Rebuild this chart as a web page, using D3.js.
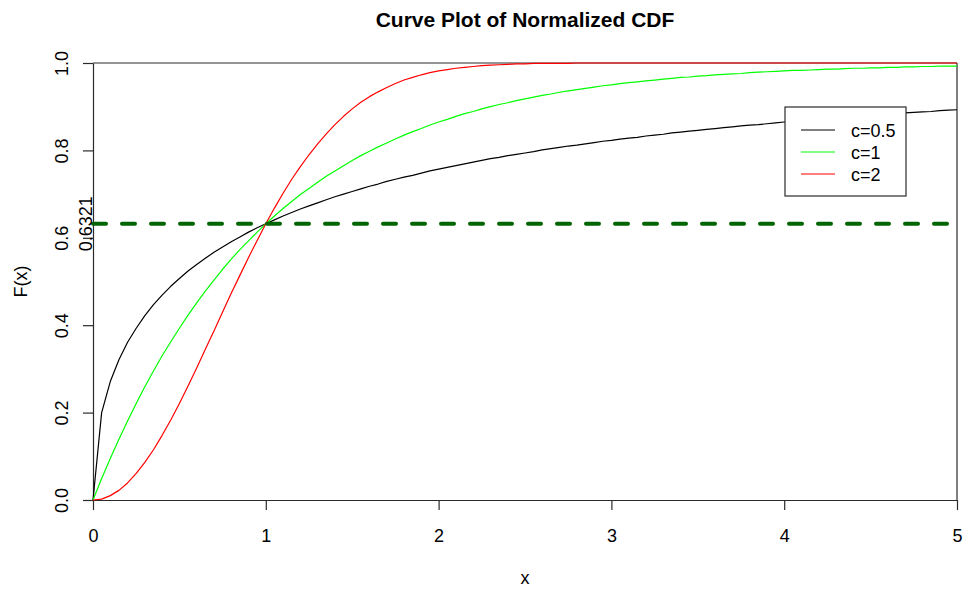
<!DOCTYPE html>
<html>
<head>
<meta charset="utf-8">
<script src="https://cdn.jsdelivr.net/npm/d3@7"></script>
<style>
  html, body { margin: 0; padding: 0; background: #fff; }
  svg { display: block; font-family: "Liberation Sans", Arial, Helvetica, sans-serif; }
</style>
</head>
<body>
<svg id="chart" width="972" height="590"></svg>
<script>
// Sample grid along x
const xGrid = [
  0.00, 0.05, 0.10, 0.15, 0.20, 0.25, 0.30, 0.35, 0.40, 0.45,
  0.50, 0.55, 0.60, 0.65, 0.70, 0.75, 0.80, 0.85, 0.90, 0.95,
  1.00, 1.05, 1.10, 1.15, 1.20, 1.25, 1.30, 1.35, 1.40, 1.45,
  1.50, 1.55, 1.60, 1.65, 1.70, 1.75, 1.80, 1.85, 1.90, 1.95,
  2.00, 2.05, 2.10, 2.15, 2.20, 2.25, 2.30, 2.35, 2.40, 2.45,
  2.50, 2.55, 2.60, 2.65, 2.70, 2.75, 2.80, 2.85, 2.90, 2.95,
  3.00, 3.05, 3.10, 3.15, 3.20, 3.25, 3.30, 3.35, 3.40, 3.45,
  3.50, 3.55, 3.60, 3.65, 3.70, 3.75, 3.80, 3.85, 3.90, 3.95,
  4.00, 4.05, 4.10, 4.15, 4.20, 4.25, 4.30, 4.35, 4.40, 4.45,
  4.50, 4.55, 4.60, 4.65, 4.70, 4.75, 4.80, 4.85, 4.90, 4.95,
  5.00
];

// F(x) for c = 0.5
const cdfC05 = [
  0.000, 0.200, 0.271, 0.321, 0.361, 0.393, 0.422, 0.447, 0.469, 0.489,
  0.507, 0.524, 0.539, 0.553, 0.567, 0.579, 0.591, 0.602, 0.613, 0.623,
  0.632, 0.641, 0.650, 0.658, 0.666, 0.673, 0.680, 0.687, 0.694, 0.700,
  0.706, 0.712, 0.718, 0.723, 0.729, 0.734, 0.739, 0.743, 0.748, 0.753,
  0.757, 0.761, 0.765, 0.769, 0.773, 0.777, 0.781, 0.784, 0.788, 0.791,
  0.794, 0.797, 0.801, 0.804, 0.807, 0.810, 0.812, 0.815, 0.818, 0.821,
  0.823, 0.826, 0.828, 0.830, 0.833, 0.835, 0.837, 0.840, 0.842, 0.844,
  0.846, 0.848, 0.850, 0.852, 0.854, 0.856, 0.858, 0.859, 0.861, 0.863,
  0.865, 0.866, 0.868, 0.870, 0.871, 0.873, 0.874, 0.876, 0.877, 0.879,
  0.880, 0.882, 0.883, 0.884, 0.886, 0.887, 0.888, 0.889, 0.891, 0.892,
  0.893
];

// F(x) for c = 1
const cdfC1 = [
  0.000, 0.049, 0.095, 0.139, 0.181, 0.221, 0.259, 0.295, 0.330, 0.362,
  0.393, 0.423, 0.451, 0.478, 0.503, 0.528, 0.551, 0.573, 0.593, 0.613,
  0.632, 0.650, 0.667, 0.683, 0.699, 0.713, 0.727, 0.741, 0.753, 0.765,
  0.777, 0.788, 0.798, 0.808, 0.817, 0.826, 0.835, 0.843, 0.850, 0.858,
  0.865, 0.871, 0.878, 0.884, 0.889, 0.895, 0.900, 0.905, 0.909, 0.914,
  0.918, 0.922, 0.926, 0.929, 0.933, 0.936, 0.939, 0.942, 0.945, 0.948,
  0.950, 0.953, 0.955, 0.957, 0.959, 0.961, 0.963, 0.965, 0.967, 0.968,
  0.970, 0.971, 0.973, 0.974, 0.975, 0.976, 0.978, 0.979, 0.980, 0.981,
  0.982, 0.983, 0.983, 0.984, 0.985, 0.986, 0.986, 0.987, 0.988, 0.988,
  0.989, 0.989, 0.990, 0.990, 0.991, 0.991, 0.992, 0.992, 0.993, 0.993,
  0.993
];

// F(x) for c = 2
const cdfC2 = [
  0.000, 0.002, 0.010, 0.022, 0.039, 0.061, 0.086, 0.115, 0.148, 0.183,
  0.221, 0.261, 0.302, 0.345, 0.387, 0.430, 0.473, 0.514, 0.555, 0.594,
  0.632, 0.668, 0.702, 0.734, 0.763, 0.790, 0.815, 0.838, 0.859, 0.878,
  0.895, 0.910, 0.923, 0.934, 0.944, 0.953, 0.961, 0.967, 0.973, 0.978,
  0.982, 0.985, 0.988, 0.990, 0.992, 0.994, 0.995, 0.996, 0.997, 0.998,
  0.998, 0.999, 0.999, 0.999, 0.999, 0.999, 1.000, 1.000, 1.000, 1.000,
  1.000, 1.000, 1.000, 1.000, 1.000, 1.000, 1.000, 1.000, 1.000, 1.000,
  1.000, 1.000, 1.000, 1.000, 1.000, 1.000, 1.000, 1.000, 1.000, 1.000,
  1.000, 1.000, 1.000, 1.000, 1.000, 1.000, 1.000, 1.000, 1.000, 1.000,
  1.000, 1.000, 1.000, 1.000, 1.000, 1.000, 1.000, 1.000, 1.000, 1.000,
  1.000
];

const seriesNames = ["c=0.5", "c=1", "c=2"];
const seriesColors = ["#000000", "#00ff00", "#ff0000"];
const seriesValues = [cdfC05, cdfC1, cdfC2];

const xTicks = [0, 1, 2, 3, 4, 5];
const yTicks = [0, 0.2, 0.4, 0.6, 0.8, 1.0];
const refLevel = 0.6321;
const refLabel = "0.6321";

const titleText = "Curve Plot of Normalized CDF";
const xTitle = "x";
const yTitle = "F(x)";

// Layout
const plot = { left: 93, right: 957, top: 63, bottom: 500 };
const axisColor = "#2a2a2a";

const svg = d3.select("#chart");

const x = d3.scaleLinear().domain([0, 5]).range([plot.left, plot.right]);
const y = d3.scaleLinear().domain([0, 1]).range([plot.bottom, plot.top]);

// Frame lines at y = 1 and x = 5
svg.append("line")
  .attr("x1", x(0)).attr("x2", x(5)).attr("y1", y(1)).attr("y2", y(1))
  .attr("stroke", axisColor).attr("stroke-width", 1.2);
svg.append("line")
  .attr("x1", x(5)).attr("x2", x(5)).attr("y1", y(1)).attr("y2", y(0))
  .attr("stroke", axisColor).attr("stroke-width", 1.2);

// Bottom axis
const xAxis = svg.append("g")
  .attr("transform", `translate(0,${plot.bottom})`)
  .call(d3.axisBottom(x).tickValues(xTicks).tickFormat(d3.format("d"))
    .tickSize(10).tickSizeOuter(0).tickPadding(0));
xAxis.select(".domain").attr("stroke", axisColor).attr("stroke-width", 1.2);
xAxis.selectAll(".tick line").attr("stroke", axisColor).attr("stroke-width", 1.2);
xAxis.selectAll(".tick text")
  .attr("y", 42).attr("dy", null)
  .attr("font-size", 18).attr("fill", "#000")
  .attr("font-family", "Liberation Sans, Arial, sans-serif");

// Left axis with rotated labels
const yAxis = svg.append("g")
  .attr("transform", `translate(${plot.left},0)`)
  .call(d3.axisLeft(y).tickValues(yTicks).tickFormat(d3.format(".1f"))
    .tickSize(10).tickSizeOuter(0));
yAxis.select(".domain").attr("stroke", axisColor).attr("stroke-width", 1.2);
yAxis.selectAll(".tick line").attr("stroke", axisColor).attr("stroke-width", 1.2);
yAxis.selectAll(".tick text")
  .attr("x", null).attr("dy", null)
  .attr("transform", "translate(-25,0) rotate(-90)")
  .attr("text-anchor", "middle")
  .attr("font-size", 18).attr("fill", "#000")
  .attr("font-family", "Liberation Sans, Arial, sans-serif");

// Curves
const line = d3.line()
  .x((d, i) => x(xGrid[i]))
  .y(d => y(d));

seriesValues.forEach((vals, k) => {
  svg.append("path")
    .datum(vals)
    .attr("d", line)
    .attr("fill", "none")
    .attr("stroke", seriesColors[k])
    .attr("stroke-width", 1.2)
    .attr("stroke-linejoin", "round");
});

// Reference level line
svg.append("line")
  .attr("x1", x(0)).attr("x2", x(5))
  .attr("y1", y(refLevel)).attr("y2", y(refLevel))
  .attr("stroke", "#006400")
  .attr("stroke-width", 4)
  .attr("stroke-dasharray", "13 16")
  .attr("stroke-linecap", "round");

svg.append("text")
  .attr("transform", `translate(${x(0) - 1},${y(refLevel)}) rotate(-90)`)
  .attr("text-anchor", "middle")
  .attr("font-size", 18)
  .text(refLabel);

// Title and axis titles
svg.append("text")
  .attr("x", (plot.left + plot.right) / 2).attr("y", 27)
  .attr("text-anchor", "middle")
  .attr("font-size", 21).attr("font-weight", "bold")
  .text(titleText);

svg.append("text")
  .attr("x", (plot.left + plot.right) / 2).attr("y", 584)
  .attr("text-anchor", "middle")
  .attr("font-size", 18)
  .text(xTitle);

svg.append("text")
  .attr("transform", `translate(27,${(plot.top + plot.bottom) / 2}) rotate(-90)`)
  .attr("text-anchor", "middle")
  .attr("font-size", 18)
  .text(yTitle);

// Legend
const legend = svg.append("g").attr("transform", "translate(785,107)");
legend.append("rect")
  .attr("x", 0).attr("y", 0).attr("width", 121).attr("height", 89)
  .attr("fill", "#fff").attr("stroke", axisColor).attr("stroke-width", 1.2);
seriesNames.forEach((name, k) => {
  const ry = 23 + k * 22;
  legend.append("line")
    .attr("x1", 16).attr("x2", 50).attr("y1", ry).attr("y2", ry)
    .attr("stroke", seriesColors[k]).attr("stroke-width", 1.2);
  legend.append("text")
    .attr("x", 66).attr("y", ry + 6.5)
    .attr("font-size", 18)
    .text(name);
});
</script>
</body>
</html>
